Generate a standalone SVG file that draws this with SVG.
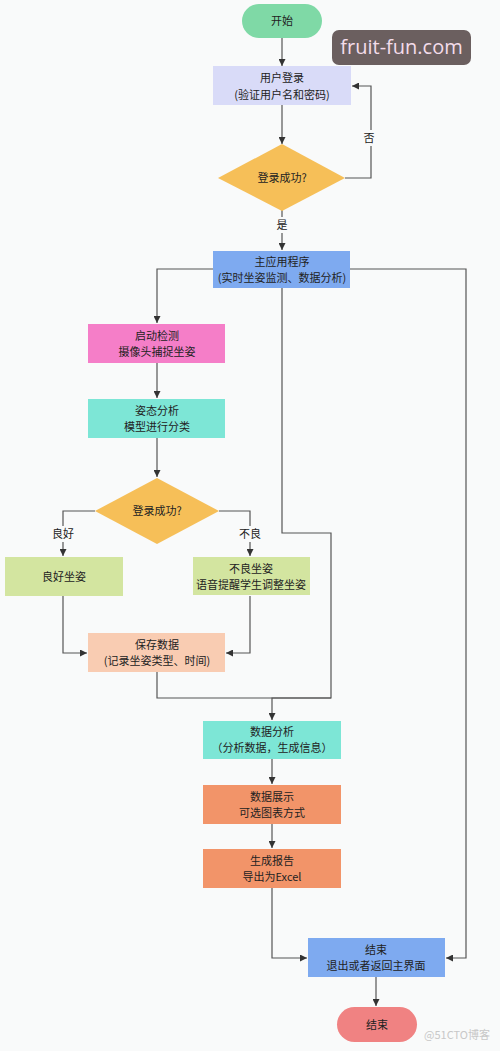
<svg xmlns="http://www.w3.org/2000/svg" width="500" height="1051" viewBox="0 0 500 1051">
<defs>
<style>
text{font-family:"Noto Sans CJK SC","Noto Sans",sans-serif;font-size:11px;fill:#222;text-anchor:middle}
.c{fill:none;stroke:#555;stroke-width:1.2}
.lbl{font-size:11px}
</style>
<marker id="a" viewBox="0 0 10 10" refX="10" refY="5" markerWidth="7" markerHeight="7" orient="auto" markerUnits="userSpaceOnUse"><path d="M0,0L10,5L0,10z" fill="#333"/></marker>
</defs>
<rect width="500" height="1051" fill="#f9fafa"/>
<g id="connectors">
<path class="c" d="M282,38V66" marker-end="url(#a)"/>
<path class="c" d="M282,105V144" marker-end="url(#a)"/>
<path class="c" d="M345,178H371V86H352" marker-end="url(#a)"/>
<path class="c" d="M282,210V250" marker-end="url(#a)"/>
<path class="c" d="M213,269H157V323" marker-end="url(#a)"/>
<path class="c" d="M350,269H466V958H446" marker-end="url(#a)"/>
<path class="c" d="M282,288V533H331V698H272V720" marker-end="url(#a)"/>
<path class="c" d="M157,363V398" marker-end="url(#a)"/>
<path class="c" d="M157,438V477" marker-end="url(#a)"/>
<path class="c" d="M95,511H63V556" marker-end="url(#a)"/>
<path class="c" d="M219,511H250V556" marker-end="url(#a)"/>
<path class="c" d="M63,596V653H87" marker-end="url(#a)"/>
<path class="c" d="M250,596V653H226" marker-end="url(#a)"/>
<path class="c" d="M157,672V698H331"/>
<path class="c" d="M272,759V784" marker-end="url(#a)"/>
<path class="c" d="M272,824V848" marker-end="url(#a)"/>
<path class="c" d="M272,888V958H307" marker-end="url(#a)"/>
<path class="c" d="M376,977V1006" marker-end="url(#a)"/>
<rect x="361" y="130" width="16" height="16" fill="#f9fafa"/>
<text x="369" y="142" class="lbl">否</text>
<rect x="274" y="217" width="16" height="16" fill="#f9fafa"/>
<text x="282" y="229" class="lbl">是</text>
<rect x="52" y="526" width="22" height="16" fill="#f9fafa"/>
<text x="63" y="538" class="lbl">良好</text>
<rect x="239" y="526" width="22" height="16" fill="#f9fafa"/>
<text x="250" y="538" class="lbl">不良</text>
</g>
<g id="start">
<rect x="242" y="4" width="80" height="34" rx="17" fill="#7fd9a6"/>
<text x="282" y="25">开始</text>
</g>
<g id="watermark">
<rect x="332" y="30" width="139" height="35" rx="7" fill="#6b5f5f"/>
<text x="401.5" y="54" style="font-family:'Open Sans','Noto Sans',sans-serif;font-size:20px;fill:#f3dcea">fruit-fun.com</text>
</g>
<g id="login">
<rect x="213" y="66" width="138" height="39" fill="#d9dbf8"/>
<text x="282" y="82">用户登录</text>
<text x="282" y="99">(验证用户名和密码)</text>
</g>
<g id="check1">
<path d="M282,144L345,178L282,211L218,178z" fill="#f6bf58"/>
<text x="282" y="182">登录成功?</text>
</g>
<g id="main">
<rect x="213" y="251" width="137" height="37" fill="#7eaaf0"/>
<text x="282" y="266">主应用程序</text>
<text x="282" y="282">(实时坐姿监测、数据分析)</text>
</g>
<g id="detect">
<rect x="88" y="324" width="137" height="39" fill="#f57ec8"/>
<text x="157" y="340">启动检测</text>
<text x="157" y="356">摄像头捕捉坐姿</text>
</g>
<g id="posture">
<rect x="88" y="399" width="137" height="39" fill="#7de6d6"/>
<text x="157" y="415">姿态分析</text>
<text x="157" y="431">模型进行分类</text>
</g>
<g id="check2">
<path d="M157,478L219,511L157,544L95,511z" fill="#f6bf58"/>
<text x="157" y="515">登录成功?</text>
</g>
<g id="good">
<rect x="5" y="557" width="118" height="39" fill="#d3e5a0"/>
<text x="64" y="581">良好坐姿</text>
</g>
<g id="bad">
<rect x="193" y="557" width="117" height="38" fill="#d3e5a0"/>
<text x="251" y="573">不良坐姿</text>
<text x="251" y="589">语音提醒学生调整坐姿</text>
</g>
<g id="save">
<rect x="88" y="633" width="137" height="39" fill="#f9ccb2"/>
<text x="157" y="649">保存数据</text>
<text x="157" y="665">(记录坐姿类型、时间)</text>
</g>
<g id="analysis">
<rect x="203" y="721" width="138" height="38" fill="#7de6d6"/>
<text x="272" y="736">数据分析</text>
<text x="272" y="752">（分析数据，生成信息）</text>
</g>
<g id="display">
<rect x="203" y="785" width="138" height="39" fill="#f29469"/>
<text x="272" y="801">数据展示</text>
<text x="272" y="817">可选图表方式</text>
</g>
<g id="report">
<rect x="203" y="849" width="138" height="39" fill="#f29469"/>
<text x="272" y="865">生成报告</text>
<text x="272" y="881">导出为Excel</text>
</g>
<g id="finish">
<rect x="308" y="938" width="137" height="39" fill="#7eaaf0"/>
<text x="376" y="954">结束</text>
<text x="376" y="970">退出或者返回主界面</text>
</g>
<g id="end">
<rect x="337" y="1007" width="80" height="35" rx="17.5" fill="#f08282"/>
<text x="377" y="1029">结束</text>
</g>
<text x="457" y="1039" style="font-size:11px;fill:#c8c8c8">@51CTO博客</text>
</svg>
